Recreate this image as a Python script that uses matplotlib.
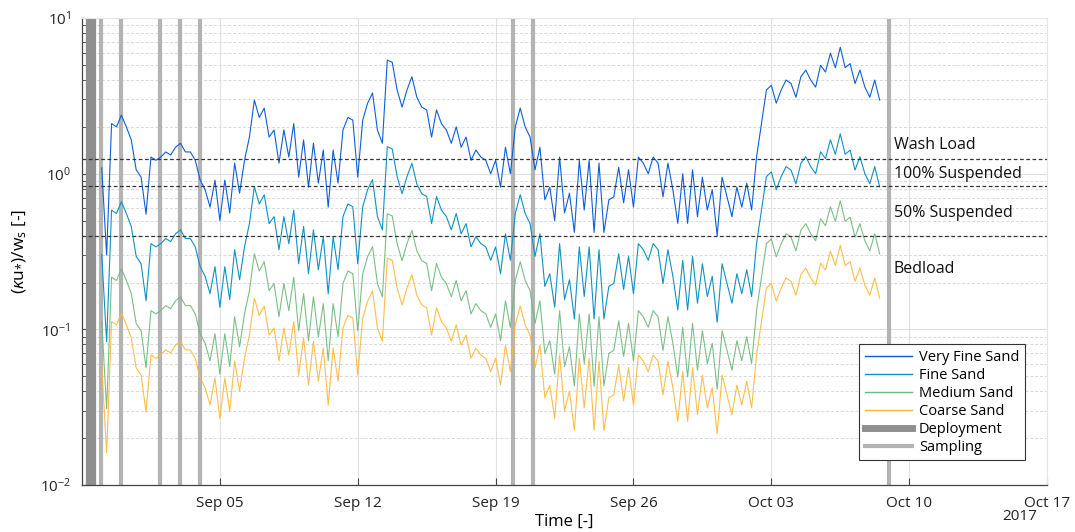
import matplotlib
matplotlib.use('Agg')
import matplotlib.pyplot as plt
import matplotlib.dates as mdates
from matplotlib.lines import Line2D
from matplotlib.ticker import LogLocator, NullFormatter
import numpy as np
import pandas as pd

plt.rcParams['font.family'] = ['Open Sans', 'DejaVu Sans']
plt.rcParams['mathtext.fontset'] = 'custom'
plt.rcParams['mathtext.rm'] = 'Open Sans'
plt.rcParams['mathtext.it'] = 'Open Sans:italic'
plt.rcParams['mathtext.bf'] = 'Open Sans:bold'

# (kappa u*)/ws for very fine sand, read every 6 h starting 2017-08-30 00:00
very_fine = [
    1.09, 0.30, 2.10, 2.00,   2.38, 2.00, 1.65, 1.06,   0.95, 0.55, 1.28, 1.22,
    1.28, 1.38, 1.32, 1.48,   1.57, 1.38, 1.38, 1.22,   0.91, 0.79, 0.61, 0.91,
    0.50, 0.91, 0.56, 1.17,   0.75, 1.22, 1.72, 2.97,   2.30, 2.64, 1.72, 1.91,
    1.17, 1.91, 1.28, 2.10,   0.95, 1.65, 0.82, 1.57,   0.87, 1.42, 0.61, 1.42,
    0.87, 1.91, 2.30, 2.21,   0.95, 2.20, 2.84, 3.30,   1.91, 1.57, 5.37, 5.20,
    3.45, 2.68, 3.45, 4.20,   3.10, 2.68, 2.57, 1.72,   2.57, 2.10, 1.91, 1.57,
    2.00, 1.48, 1.72, 1.22,   1.42, 1.28, 1.22, 1.00,   1.22, 0.82, 1.48, 1.00,
    2.00, 2.64, 2.00, 1.72,   1.06, 1.48, 0.68, 0.82,   0.50, 1.28, 0.56, 0.75,
    0.42, 1.22, 0.585, 1.22,  0.42, 1.17, 0.42, 0.68,   0.71, 1.10, 0.65, 1.06,
    0.61, 1.28, 1.17, 1.00,   1.28, 1.17, 0.71, 1.17,   0.79, 0.48, 1.00, 0.48,
    1.06, 0.53, 0.95, 0.585,  0.79, 0.40, 0.95, 0.71,   0.53, 0.82, 0.61, 0.87,
    0.585, 1.28, 2.10, 3.45,  3.70, 2.84, 3.45, 4.00,   3.80, 3.10, 4.20, 4.63,
    4.00, 3.60, 4.98, 4.50,   5.95, 4.80, 6.50, 4.80,   5.10, 3.80, 4.63, 3.60,
    3.10, 4.00, 2.97,
]

# settling velocity relative to very fine sand
classes = ['Very Fine Sand', 'Fine Sand', 'Medium Sand', 'Coarse Sand']
ws_rel = [1.0, 3.6, 9.7, 18.7]
colors = ['#0d5fd8', '#1191c4', '#6db87a', '#fdb736']
alphas = [1.0, 1.0, 0.9, 0.9]

# thresholds of transport mode
thresholds = [1.25, 0.8333, 0.4]
mode_labels = ['Wash Load', '100% Suspended', '50% Suspended', 'Bedload']
mode_label_y = [1.53, 1.0, 0.557, 0.244]

deployment = ['2017-08-29 09:00', '2017-08-29 13:00']
sampling = ['2017-08-29 23:00', '2017-08-30 23:30', '2017-09-01 23:00',
            '2017-09-02 23:15', '2017-09-03 23:45', '2017-09-19 21:30',
            '2017-09-20 21:30', '2017-10-08 23:00']

time = pd.date_range('2017-08-30 00:00', periods=len(very_fine), freq='6h')
vf = np.array(very_fine)

fig = plt.figure(figsize=(10.75, 5.32), dpi=100)
ax = fig.add_axes([0.0763, 0.0883, 0.8977, 0.8777])

for t in deployment:
    ax.axvline(pd.Timestamp(t), color='#8f8f8f', lw=4.5, zorder=1)
for t in sampling:
    ax.axvline(pd.Timestamp(t), color='#b3b3b3', lw=3, zorder=1)

for name, r, c, a in zip(classes, ws_rel, colors, alphas):
    ax.plot(time, vf / r, color=c, lw=0.8, alpha=a, zorder=3)

for th in thresholds:
    ax.axhline(th, color='#333333', lw=0.9, ls=(0, (3, 2)), zorder=4)

x_lab = pd.Timestamp('2017-10-09 05:00')
for lab, y in zip(mode_labels, mode_label_y):
    ax.text(x_lab, y, lab, fontsize=11.5, va='center', ha='left', color='#111111')

ax.set_yscale('log')
ax.set_ylim(1e-2, 1e1)
ax.set_xlim(pd.Timestamp('2017-08-29'), pd.Timestamp('2017-10-17'))

ticks = pd.date_range('2017-09-05', '2017-10-17', freq='7D')
ax.set_xticks(ticks)
ax.xaxis.set_major_formatter(mdates.DateFormatter('%b %d'))
ax.yaxis.set_major_locator(LogLocator(base=10, numticks=10))
ax.yaxis.set_minor_locator(LogLocator(base=10, subs=np.arange(2, 10), numticks=20))
ax.yaxis.set_minor_formatter(NullFormatter())

ax.grid(True, which='major', color='#e0e0e0', lw=0.8, zorder=0)
ax.grid(True, which='minor', axis='y', color='#d9d9d9', lw=0.7, ls=(0, (3, 2)), zorder=0)
ax.set_axisbelow(True)

ax.tick_params(axis='both', which='major', direction='in', length=5, labelsize=11,
               color='#444444', labelcolor='#222222', pad=8)
ax.tick_params(axis='y', which='minor', direction='in', length=3, color='#444444')
ax.tick_params(axis='x', which='minor', bottom=False)
for s in ['left', 'bottom']:
    ax.spines[s].set_color('#444444')
    ax.spines[s].set_linewidth(0.9)
for s in ['top', 'right']:
    ax.spines[s].set_color('#e6e6e6')
    ax.spines[s].set_linewidth(0.8)

ax.set_xlabel('Time [-]', fontsize=12, labelpad=2)
ax.set_ylabel(r'$(\kappa\mathrm{u}_{*})/\mathrm{w}_{\mathrm{s}}$ [-]', fontsize=12.5, labelpad=8)
fig.text(1037 / 1075, 1 - 517 / 532, '2017', fontsize=11, ha='right', va='center', color='#222222')

handles = [Line2D([], [], color=c, lw=1.0) for c in colors]
handles.append(Line2D([], [], color='#8f8f8f', lw=5))
handles.append(Line2D([], [], color='#b3b3b3', lw=3))
leg = ax.legend(handles, classes + ['Deployment', 'Sampling'], loc='lower right',
                bbox_to_anchor=(0.985, 0.037), fontsize=10.5, frameon=True, fancybox=False,
                edgecolor='#333333', framealpha=1, handlelength=3.2, labelspacing=0.2,
                borderpad=0.4, handletextpad=0.5)
leg.get_frame().set_linewidth(0.8)

fig.savefig('out.png', dpi=100)
